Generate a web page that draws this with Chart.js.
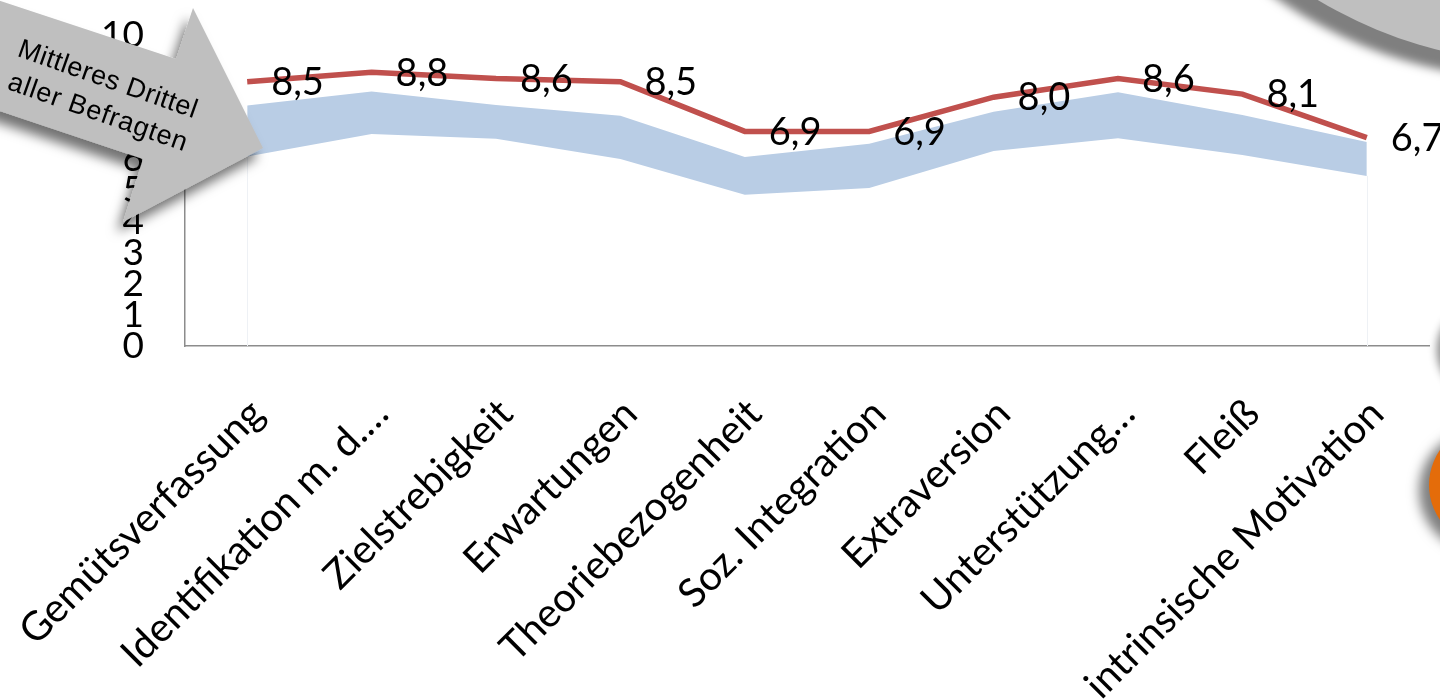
<!DOCTYPE html>
<html>
<head>
<meta charset="utf-8">
<script src="https://cdn.jsdelivr.net/npm/chart.js@4"></script>
<style>
  body { margin: 0; background: #fff; overflow: hidden; }
  #wrap { position: relative; width: 1440px; height: 699px; overflow: hidden; }
  #chart { position: absolute; left: 0; top: 0; }
  .deco { position: absolute; border-radius: 50%; }
  #arrow { position: absolute; left: 0; top: 0; overflow: visible; }
</style>
</head>
<body>
<div id="wrap">
  <canvas id="chart" width="1440" height="699"></canvas>
  <div class="deco" style="left:1099px;top:-836px;width:900px;height:900px;background:#BFBFBF;box-shadow:-14px 16px 10px #7F7F7F;"></div>
  <div class="deco" style="left:1447px;top:300px;width:110px;height:100px;background:#BFBFBF;box-shadow:-10px 0 8px #888;"></div>
  <div class="deco" style="left:1429px;top:424px;width:122px;height:122px;background:#E46C0A;box-shadow:-10px 6px 12px #7F7F7F;"></div>
  <svg id="arrow" width="300" height="260">
    <defs>
      <filter id="shadow" x="-50%" y="-50%" width="200%" height="200%">
        <feDropShadow dx="-6" dy="10" stdDeviation="6" flood-color="#000" flood-opacity="0.55"/>
      </filter>
    </defs>
    <polygon points="-60,-19 176,59 193,8 263,148 123,222 143,159 -60,91" fill="#BFBFBF" filter="url(#shadow)"/>
    <g font-family="'Liberation Sans', Arial, sans-serif" font-size="27" fill="#000" text-anchor="middle">
      <text x="105" y="87" transform="rotate(19.4 105 87)" textLength="188" lengthAdjust="spacing">Mittleres Drittel</text>
      <text x="95" y="120" transform="rotate(19.4 95 120)" textLength="188" lengthAdjust="spacing">aller Befragten</text>
    </g>
  </svg>
</div>
<script>
// categories and values
const categories = ["Gemütsverfassung", "Identifikation m. d.…", "Zielstrebigkeit", "Erwartungen",
  "Theoriebezogenheit", "Soz. Integration", "Extraversion", "Unterstützung…", "Fleiß", "intrinsische Motivation"];
const meanValues = [8.5, 8.8, 8.6, 8.5, 6.9, 6.9, 8.0, 8.6, 8.1, 6.7];
const thirdLow = [6.09, 6.82, 6.66, 6.01, 4.86, 5.08, 6.27, 6.68, 6.14, 5.47];
const thirdHigh = [7.73, 8.18, 7.75, 7.40, 6.08, 6.50, 7.53, 8.16, 7.43, 6.56];
const yTicks = [0, 1, 2, 3, 4, 5, 6, 7, 8, 9, 10];

const fontFamily = "Lato, 'Open Sans', sans-serif";

// value labels to the right of each point of the red line
const valueLabels = {
  id: 'valueLabels',
  beforeDatasetsDraw(chart) {
    // faint edges of the band area down to the axis
    const ctx = chart.ctx;
    const meta = chart.getDatasetMeta(0);
    const bottom = chart.chartArea.bottom;
    ctx.save();
    ctx.strokeStyle = '#EEF1F5';
    ctx.lineWidth = 1;
    [meta.data[0], meta.data[meta.data.length - 1]].forEach(p => {
      ctx.beginPath();
      ctx.moveTo(Math.round(p.x) + 0.5, p.y);
      ctx.lineTo(Math.round(p.x) + 0.5, bottom);
      ctx.stroke();
    });
    ctx.restore();
  },
  afterDatasetsDraw(chart) {
    const ctx = chart.ctx;
    const meta = chart.getDatasetMeta(2);
    ctx.save();
    ctx.font = "38px " + fontFamily;
    ctx.fillStyle = '#000';
    ctx.textAlign = 'left';
    ctx.textBaseline = 'middle';
    meta.data.forEach((p, i) => {
      ctx.fillText(meanValues[i].toFixed(1).replace('.', ','), p.x + 24, p.y + 1);
    });
    ctx.restore();
  }
};

function noPadding(scale) {
  scale.paddingLeft = 0;
  scale.paddingRight = 0;
  scale.paddingTop = 0;
  scale.paddingBottom = 0;
}

new Chart(document.getElementById('chart'), {
  type: 'line',
  data: {
    labels: categories,
    datasets: [
      {
        data: thirdLow,
        borderWidth: 0,
        pointRadius: 0,
        fill: false
      },
      {
        data: thirdHigh,
        borderWidth: 0,
        pointRadius: 0,
        backgroundColor: '#B9CDE5',
        fill: '-1'
      },
      {
        data: meanValues,
        borderColor: '#C0504D',
        borderWidth: 5.5,
        pointRadius: 0,
        fill: false,
        tension: 0
      }
    ]
  },
  options: {
    responsive: false,
    devicePixelRatio: 1,
    animation: false,
    layout: { padding: { top: 35, right: 11, left: 0, bottom: 0 } },
    plugins: { legend: { display: false }, tooltip: { enabled: false } },
    scales: {
      x: {
        offset: true,
        grid: { display: false },
        border: { color: '#8C8C8C', width: 1.5 },
        ticks: {
          autoSkip: false,
          minRotation: 45,
          maxRotation: 45,
          padding: 36,
          labelOffset: 10,
          color: '#000',
          font: { family: fontFamily, size: 40 }
        },
        afterFit(scale) { scale.height = 699 - 346; noPadding(scale); }
      },
      y: {
        min: 0,
        max: 10,
        grid: { display: false },
        border: { color: '#8C8C8C', width: 1.5 },
        afterBuildTicks(scale) { scale.ticks = yTicks.map(v => ({ value: v })); },
        ticks: {
          autoSkip: false,
          padding: 33,
          color: '#000',
          font: { family: fontFamily, size: 37 }
        },
        afterFit(scale) { scale.width = 185; noPadding(scale); }
      }
    }
  },
  plugins: [valueLabels]
});
</script>
</body>
</html>
